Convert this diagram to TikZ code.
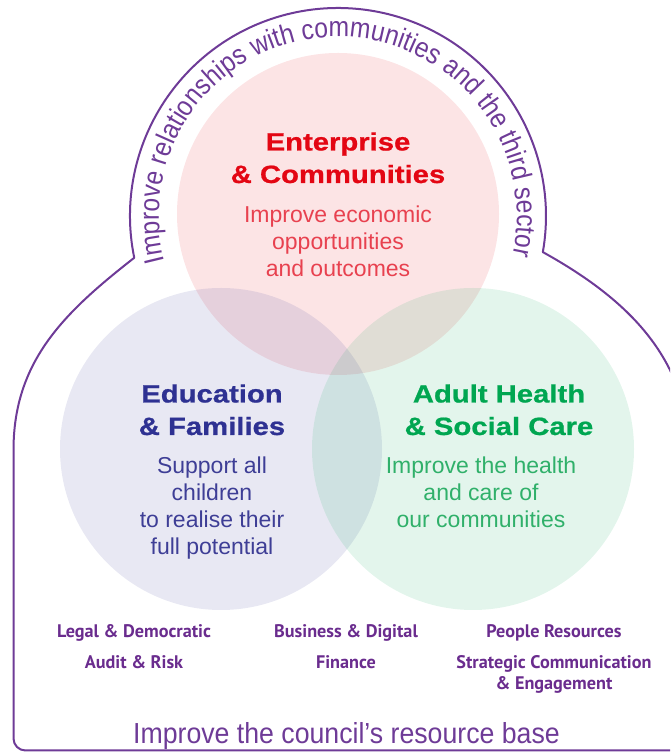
\documentclass[tikz,border=0pt]{standalone}
\usepackage{fontspec}
\setmainfont{Liberation Sans}
\newfontfamily\headfont{Liberation Sans}[FakeStretch=1.17, BoldFeatures={FakeBold=0.8}]
\newfontfamily\narrowfont{Liberation Sans}[FakeStretch=0.88]
\newfontfamily\basefont{Liberation Sans}[FakeStretch=0.92]
\newfontfamily\labfont{PT Sans}
\usetikzlibrary{decorations.text}

\definecolor{outline}{HTML}{6E3B97}
\definecolor{labpurple}{HTML}{6A2C8E}
\definecolor{ecred}{HTML}{E30613}
\definecolor{ecbody}{HTML}{E8414F}
\definecolor{efblue}{HTML}{2E3192}
\definecolor{efbody}{HTML}{3E3E96}
\definecolor{ahgreen}{HTML}{00A651}
\definecolor{ahbody}{HTML}{30B06A}

\tikzset{
  venn/.style={circle, minimum size=322pt, inner sep=0pt, draw=none, fill opacity=0.11},
  % multi-line nodes: the base anchor sits on the baseline of the last line
  heading/.style={font=\headfont\bfseries\fontsize{25}{32.5}\selectfont, align=center, anchor=base, inner sep=0pt},
  body/.style={font=\fontsize{23}{27.3}\selectfont, align=center, anchor=base, inner sep=0pt},
  dept/.style={font=\labfont\bfseries\fontsize{18.2}{21}\selectfont, text=labpurple, align=center, anchor=base, inner sep=0pt},
  border/.style={draw=outline, line width=2pt, line join=round},
}

\begin{document}
\begin{tikzpicture}[x=1pt, y=1pt]
\useasboundingbox (0,0) rectangle (670,752);
\clip (0,0) rectangle (670,752);

% the three overlapping directorate circles
\node[venn, fill=ecred]   (ec) at (338,538) {};
\node[venn, fill=efblue]  (ef) at (221,303) {};
\node[venn, fill=ahgreen] (ah) at (473,303) {};

% outer frame: arch on top, shoulders, straight sides
\path[border] (690,1.5) -- (25.5,1.5)
  arc[start angle=270, end angle=180, radius=12]
  -- (13.5,302)
  to[out=90, in=218] (134.25,494.2)
  arc[start angle=191.6, end angle=-10, radius=208]
  to[out=-29, in=90] (690,292) -- cycle;

% curved caption along the arch
\path[decorate, decoration={text along path, text align=center, text color=outline,
  text={|\narrowfont\fontsize{28}{28}\selectfont|Improve relationships with communities and the third sector}}]
  (165.9,486.7) arc[start angle=196, end angle=-14, radius=179];

% circle headings and aims
\node[heading, text=ecred] (ecT) at (338,569) {Enterprise\\\& Communities};
\node[body, text=ecbody] (ecB) at (338,475) {Improve economic\\opportunities\\and outcomes};

\node[heading, text=efblue] (efT) at (212,317) {Education\\\& Families};
\node[body, text=efbody] (efB) at (212,197) {Support all\\children\\to realise their\\full potential};

\node[heading, text=ahgreen] (ahT) at (499,317) {Adult Health\\\& Social Care};
\node[body, text=ahbody] (ahB) at (481,224) {Improve the health\\and care of\\our communities};

% support services
\node[dept] (d1) at (134,114) {Legal \& Democratic};
\node[dept] (d2) at (134,83)  {Audit \& Risk};
\node[dept] (d3) at (346,114) {Business \& Digital};
\node[dept] (d4) at (346,83)  {Finance};
\node[dept] (d5) at (554,114) {People Resources};
\node[dept] (d6) at (554,62)  {Strategic Communication\\\& Engagement};

\node[anchor=base, inner sep=0pt, text=outline, font=\basefont\fontsize{29}{29}\selectfont] (base) at (346.5,9) {Improve the council’s resource base};
\end{tikzpicture}
\end{document}
